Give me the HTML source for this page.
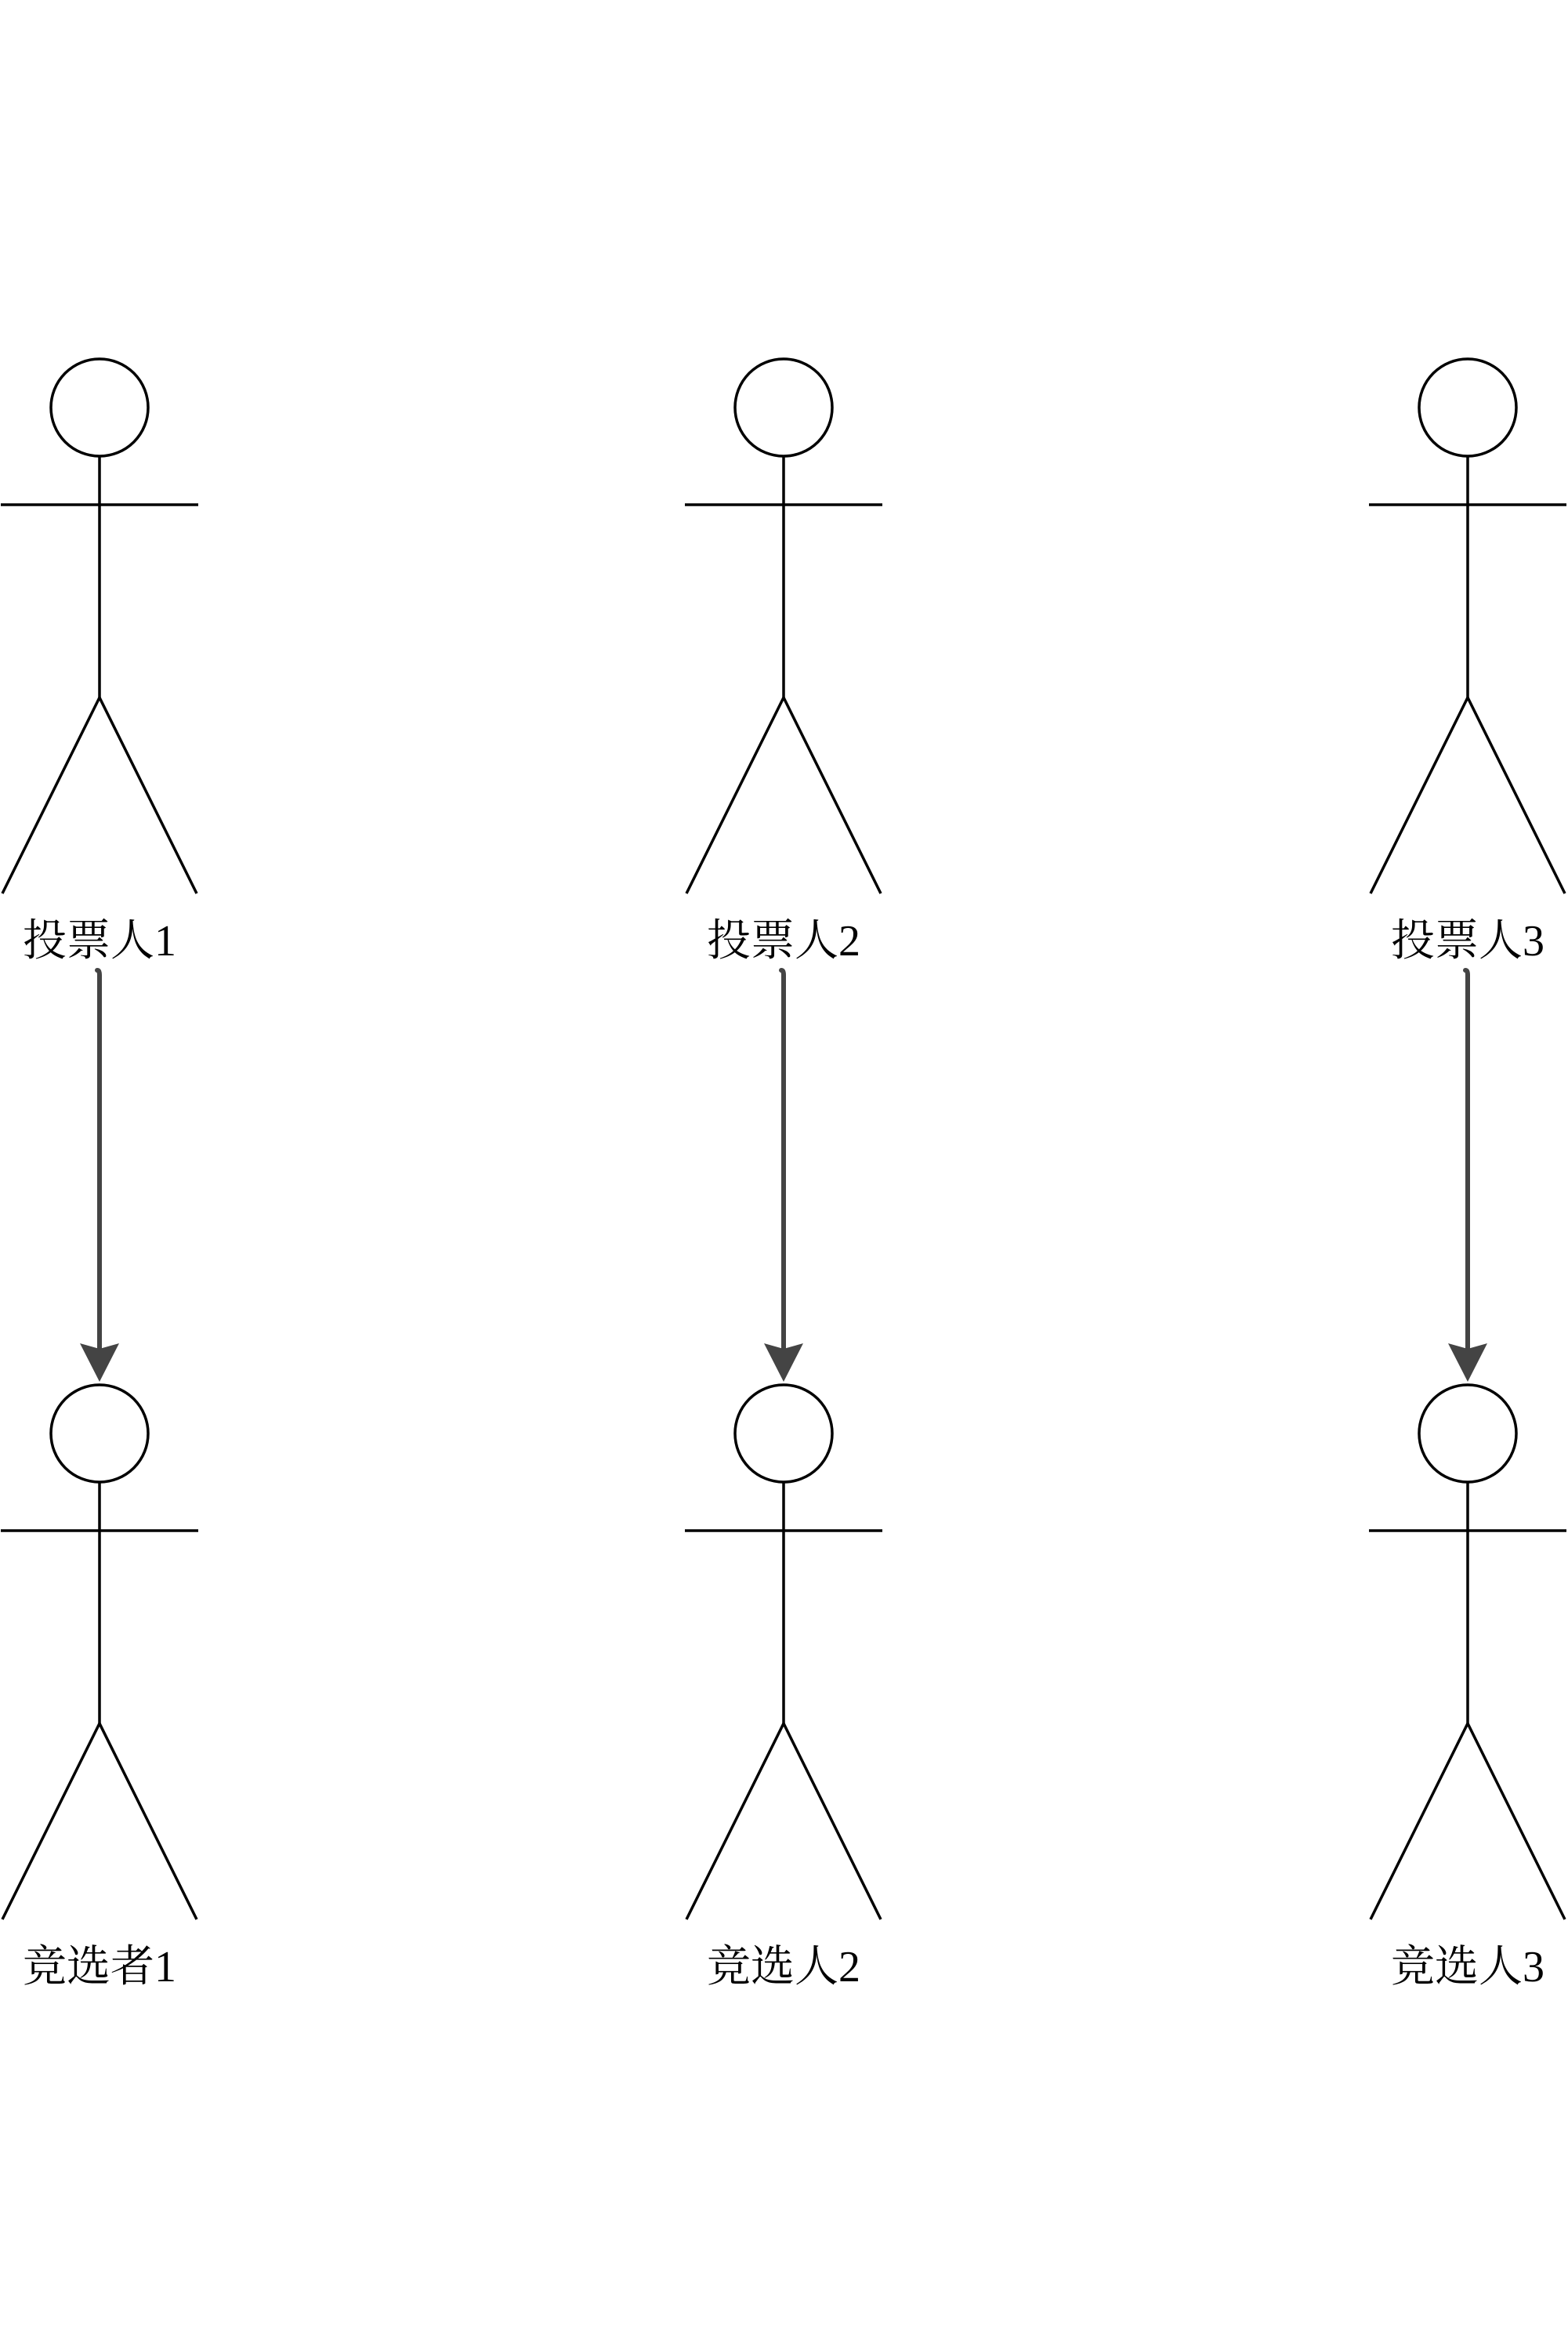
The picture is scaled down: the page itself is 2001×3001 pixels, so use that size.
<!DOCTYPE html>
<html><head><meta charset="utf-8"><style>
html,body{margin:0;padding:0;background:#fff;width:2001px;height:3001px;overflow:hidden}
svg{display:block}
text{font-family:"Liberation Serif","Noto Serif CJK SC",serif;font-size:56px;fill:#000}
</style></head><body>
<svg id="c" width="2001" height="3001"></svg>
<script>
const voterLabels=["投票人1","投票人2","投票人3"];
const candidateLabels=["竞选者1","竞选人2","竞选人3"];
const xs=[127,1000,1873];
const svg=document.getElementById('c');
const NS='http://www.w3.org/2000/svg';
function mk(tag,attrs,parent){const e=document.createElementNS(NS,tag);for(const k in attrs)e.setAttribute(k,attrs[k]);(parent||svg).appendChild(e);return e;}
function actor(cx,top,label,name){
  const g=mk('g',{stroke:'#000','stroke-width':3.5,fill:'none'});
  
  
  const cy=top;
  mk('circle',{cx:cx,cy:cy,r:62,fill:'#fff'},g);
  mk('line',{x1:cx,y1:cy+62,x2:cx,y2:cy+370},g);
  mk('line',{x1:cx-126,y1:cy+124,x2:cx+126,y2:cy+124},g);
  mk('polyline',{points:`${cx-124},${cy+620} ${cx},${cy+370} ${cx+124},${cy+620}`},g);
  const t=mk('text',{x:cx,y:cy+699,'text-anchor':'middle',stroke:'none'});
  
  
  t.textContent=label;
}
for(let i=0;i<3;i++){
  actor(xs[i],520,voterLabels[i],'voter-'+(i+1));
  actor(xs[i],1829,candidateLabels[i],'candidate-'+(i+1));
  const a=mk('g',{});
  
  
  const cx=xs[i];
  mk('path',{d:`M${cx-3},1238 Q${cx},1238 ${cx},1244 L${cx},1722`,stroke:'#444','stroke-width':6,fill:'none','stroke-linecap':'round'},a);
  mk('path',{d:`M${cx-25},1714 L${cx},1721 L${cx+25},1714 L${cx},1763 Z`,fill:'#444'},a);
}
</script>
</body></html>
